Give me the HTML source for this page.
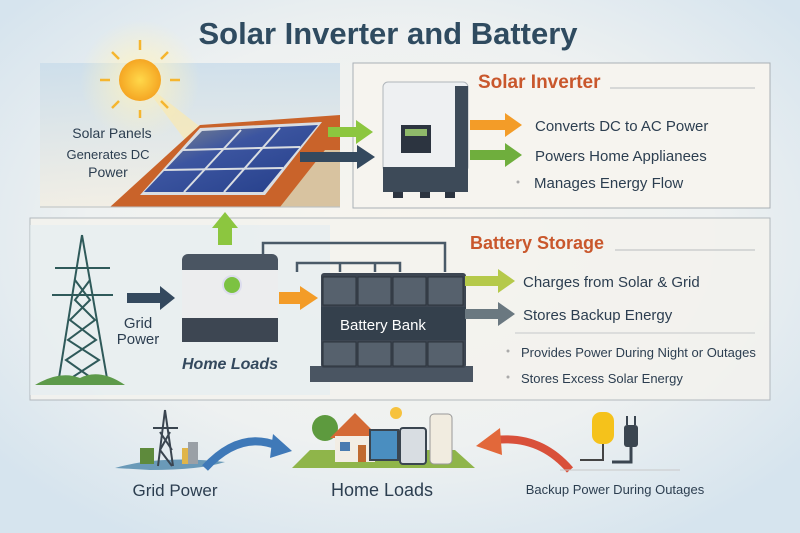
<!DOCTYPE html>
<html><head><meta charset="utf-8"><style>
html,body{margin:0;padding:0;width:800px;height:533px;overflow:hidden;background:#e9f0f5}
svg{display:block}
text{font-family:"Liberation Sans",sans-serif}
</style></head><body>
<svg width="800" height="533" viewBox="0 0 800 533" xmlns="http://www.w3.org/2000/svg">
<defs>
<radialGradient id="bg" cx="50%" cy="45%" r="65%"><stop offset="0" stop-color="#f8f5ee"/><stop offset="0.6" stop-color="#eef1f1"/><stop offset="1" stop-color="#d6e4ee"/></radialGradient>
<linearGradient id="sky" x1="0" y1="0" x2="0" y2="1"><stop offset="0" stop-color="#c9dcea"/><stop offset="1" stop-color="#f3eee2"/></linearGradient>
<linearGradient id="pan" x1="0" y1="0" x2="1" y2="1"><stop offset="0" stop-color="#8a8f8a"/><stop offset="0.4" stop-color="#3c55a0"/><stop offset="1" stop-color="#233d88"/></linearGradient>
<radialGradient id="sun"><stop offset="0" stop-color="#ffd84a"/><stop offset="1" stop-color="#f5a623"/></radialGradient>
<radialGradient id="glow"><stop offset="0" stop-color="#fff3c0" stop-opacity="0.9"/><stop offset="1" stop-color="#fff3c0" stop-opacity="0"/></radialGradient>
</defs>
<rect width="800" height="533" fill="url(#bg)"/>
<text x="388" y="44" text-anchor="middle" font-size="31" font-weight="bold" fill="#2f4b60">Solar Inverter and Battery</text>

<!-- roof scene -->
<rect x="40" y="63" width="300" height="145" fill="url(#sky)" opacity="0.8"/>
<circle cx="140" cy="80" r="60" fill="url(#glow)"/>
<polygon points="140,80 230,150 200,160" fill="#fde9a8" opacity="0.6"/>
<circle cx="140" cy="80" r="21" fill="url(#sun)"/>
<g stroke="#f5b52e" stroke-width="2.5">
<line x1="140" y1="50" x2="140" y2="40"/><line x1="170" y1="80" x2="180" y2="80"/><line x1="110" y1="80" x2="100" y2="80"/><line x1="140" y1="110" x2="140" y2="118"/>
<line x1="161" y1="59" x2="168" y2="52"/><line x1="119" y1="59" x2="112" y2="52"/><line x1="161" y1="101" x2="168" y2="108"/><line x1="119" y1="101" x2="112" y2="108"/>
</g>
<polygon points="110,207 200,125 340,115 340,207" fill="#c9632a"/>
<polygon points="280,207 325,150 340,150 340,207" fill="#d8c3a0"/>
<polygon points="140,195 200,128 322,122 265,195" fill="#d9dde2"/>
<polygon points="144,192 202,131 318,125 263,192" fill="url(#pan)"/>
<g stroke="#d9dde2" stroke-width="2"><line x1="164" y1="170" x2="283" y2="168"/><line x1="183" y1="150" x2="300" y2="147"/><line x1="241" y1="130" x2="184" y2="192"/><line x1="280" y1="128" x2="224" y2="192"/></g>
<line x1="40" y1="207" x2="340" y2="207" stroke="#b9c2c8"/>
<text x="112" y="138" text-anchor="middle" font-size="14" fill="#2c3e50">Solar Panels</text>
<text x="108" y="159" text-anchor="middle" font-size="13" fill="#2c3e50">Generates DC</text>
<text x="108" y="177" text-anchor="middle" font-size="14" fill="#2c3e50">Power</text>

<!-- top box -->
<rect x="353" y="63" width="417" height="145" fill="#f6f4ef" stroke="#a9b0b5"/>
<!-- arrows to inverter -->
<polygon points="328,127 356,127 356,120 373,132 356,144 356,137 328,137" fill="#8cc63f"/>
<polygon points="300,152 357,152 357,145 375,157 357,169 357,162 300,162" fill="#34495e"/>
<rect x="383" y="82" width="85" height="90" rx="5" fill="#eef0f2" stroke="#b0b6bb"/>
<rect x="455" y="86" width="13" height="86" fill="#3d4a58"/>
<rect x="383" y="167" width="85" height="25" fill="#3d4a58"/>
<rect x="401" y="125" width="30" height="28" fill="#2c3440"/><rect x="405" y="129" width="22" height="7" fill="#8fb96a"/>
<rect x="393" y="192" width="10" height="6" fill="#2c3440"/><rect x="420" y="192" width="10" height="6" fill="#2c3440"/><rect x="445" y="192" width="10" height="6" fill="#2c3440"/>
<text x="478" y="88" font-size="19" font-weight="bold" fill="#c9572c">Solar Inverter</text>
<line x1="610" y1="88" x2="755" y2="88" stroke="#b8bcbf"/>
<polygon points="470,120 505,120 505,113 522,125 505,137 505,130 470,130" fill="#f39c28"/>
<polygon points="470,150 505,150 505,143 522,155 505,167 505,160 470,160" fill="#6fae3d"/>
<text x="535" y="131" font-size="15" fill="#2c3e50">Converts DC to AC Power</text>
<text x="535" y="161" font-size="15" fill="#2c3e50">Powers Home Applianees</text>
<circle cx="518" cy="182" r="1.5" fill="#aaa"/>
<text x="534" y="188" font-size="15" fill="#2c3e50">Manages Energy Flow</text>

<!-- lower panel -->
<rect x="30" y="218" width="740" height="182" fill="#f4f3ee" stroke="#a9b0b5" opacity="0.85"/>
<rect x="30" y="225" width="300" height="170" fill="#e3ecf2" opacity="0.6"/>
<polygon points="218,245 218,228 212,228 225,212 238,228 232,228 232,245" fill="#8cc63f"/>
<!-- tower -->
<g stroke="#2f5a5a" stroke-width="2" fill="none">
<line x1="82" y1="235" x2="58" y2="384"/><line x1="82" y1="235" x2="108" y2="384"/>
<line x1="55" y1="268" x2="110" y2="268"/><line x1="52" y1="295" x2="113" y2="295"/>
<path d="M75,280 L90,300 L70,320 L96,340 L66,360 L100,384 M90,280 L75,300 L95,320 L68,340 L99,360 L62,384"/>
</g>
<path d="M35,385 Q60,370 80,378 Q100,368 125,385 Z" fill="#5d9a4a"/>
<polygon points="127,293 160,293 160,286 175,298 160,310 160,303 127,303" fill="#34495e"/>
<text x="138" y="328" text-anchor="middle" font-size="15" fill="#2c3e50">Grid</text>
<text x="138" y="344" text-anchor="middle" font-size="15" fill="#2c3e50">Power</text>
<!-- home loads box -->
<rect x="182" y="254" width="96" height="30" rx="6" fill="#4a5562"/>
<rect x="182" y="270" width="96" height="50" fill="#ecedee"/>
<rect x="182" y="318" width="96" height="24" fill="#3d4652"/>
<circle cx="232" cy="285" r="9" fill="#7cc242" stroke="#dde" stroke-width="2"/>
<text x="230" y="369" text-anchor="middle" font-size="16" font-style="italic" font-weight="bold" fill="#34495e">Home Loads</text>
<polygon points="279,292 300,292 300,286 318,298 300,310 300,304 279,304" fill="#f39c28"/>
<!-- wires -->
<path d="M263,254 V243 H445 V272 M297,272 V263 H400 V272 M340,263 V272 M375,263 V272" fill="none" stroke="#4a5a68" stroke-width="2.5"/>
<!-- battery bank -->
<rect x="310" y="366" width="163" height="16" fill="#4a5562"/>
<rect x="321" y="273" width="145" height="95" rx="3" fill="#3d4652"/>
<g fill="#56616d" stroke="#2c333b">
<rect x="323" y="277" width="33" height="28"/><rect x="358" y="277" width="33" height="28"/><rect x="393" y="277" width="33" height="28"/><rect x="428" y="277" width="35" height="28"/>
<rect x="323" y="342" width="33" height="24"/><rect x="358" y="342" width="33" height="24"/><rect x="393" y="342" width="33" height="24"/><rect x="428" y="342" width="35" height="24"/>
</g>
<rect x="321" y="307" width="145" height="33" fill="#34404c"/>
<text x="383" y="330" text-anchor="middle" font-size="15" fill="#fff">Battery Bank</text>
<text x="470" y="249" font-size="18" font-weight="bold" fill="#c9572c">Battery Storage</text>
<line x1="615" y1="250" x2="755" y2="250" stroke="#b8bcbf"/>
<polygon points="465,276 498,276 498,269 515,281 498,293 498,286 465,286" fill="#b5c94a"/>
<polygon points="465,309 498,309 498,302 515,314 498,326 498,319 465,319" fill="#6a7880"/>
<text x="523" y="287" font-size="15" fill="#2c3e50">Charges from Solar &amp; Grid</text>
<text x="523" y="320" font-size="15" fill="#2c3e50">Stores Backup Energy</text>
<line x1="515" y1="333" x2="755" y2="333" stroke="#c5c8ca"/>
<circle cx="508" cy="351" r="1.5" fill="#aaa"/><circle cx="508" cy="377" r="1.5" fill="#aaa"/>
<text x="521" y="357" font-size="13" fill="#2c3e50">Provides Power During Night or Outages</text>
<text x="521" y="383" font-size="13" fill="#2c3e50">Stores Excess Solar Energy</text>

<!-- bottom -->
<path d="M115,468 Q160,455 225,462 Q200,470 150,470 Z" fill="#6a9ab8"/>
<g stroke="#3a4550" stroke-width="2" fill="none"><line x1="165" y1="410" x2="158" y2="466"/><line x1="165" y1="410" x2="173" y2="466"/><line x1="153" y1="428" x2="178" y2="428"/><path d="M160,432 L172,450 M170,432 L160,450 M160,450 L172,466"/></g>
<rect x="140" y="448" width="14" height="16" fill="#5e8a3c"/><rect x="182" y="448" width="12" height="16" fill="#e0b54a"/><rect x="188" y="442" width="10" height="22" fill="#9aa0a6"/>
<path d="M205,468 Q240,430 278,446" fill="none" stroke="#3f79b8" stroke-width="8"/>
<polygon points="273,434 292,451 270,458" fill="#3f79b8"/>
<polygon points="292,468 310,450 455,450 475,468" fill="#8fb54a"/>
<circle cx="325" cy="428" r="13" fill="#5d9a3e"/>
<polygon points="330,438 355,413 380,438" fill="#d46a35"/>
<rect x="335" y="436" width="40" height="26" fill="#f2ede4"/>
<rect x="358" y="445" width="8" height="17" fill="#c06a30"/><rect x="340" y="442" width="10" height="9" fill="#4a7bb0"/>
<rect x="370" y="430" width="28" height="30" fill="#4a8ec0" stroke="#3a4550" stroke-width="2"/>
<rect x="400" y="428" width="26" height="36" rx="3" fill="#d8dde2" stroke="#3a4550" stroke-width="2"/>
<rect x="430" y="414" width="22" height="50" rx="4" fill="#f1ece0" stroke="#999"/>
<circle cx="396" cy="413" r="6" fill="#f6c23e"/>
<path d="M570,470 Q540,435 495,440" fill="none" stroke="#d9503a" stroke-width="8"/>
<polygon points="500,428 476,446 502,455" fill="#e2683a"/>
<rect x="592" y="412" width="22" height="32" rx="9" fill="#f5c21b"/>
<path d="M603,444 V460 H580" fill="none" stroke="#444" stroke-width="2"/>
<rect x="624" y="425" width="14" height="22" rx="3" fill="#3a4550"/><line x1="627" y1="416" x2="627" y2="425" stroke="#3a4550" stroke-width="2"/><line x1="635" y1="416" x2="635" y2="425" stroke="#3a4550" stroke-width="2"/>
<path d="M631,447 V462 H612" fill="none" stroke="#3a4550" stroke-width="3"/>
<line x1="560" y1="470" x2="680" y2="470" stroke="#c8c8c8"/>
<text x="175" y="496" text-anchor="middle" font-size="17" fill="#2c3e50">Grid Power</text>
<text x="382" y="496" text-anchor="middle" font-size="18" fill="#2c3e50">Home Loads</text>
<text x="615" y="494" text-anchor="middle" font-size="13" fill="#2c3e50">Backup Power During Outages</text>
</svg>
</body></html>
